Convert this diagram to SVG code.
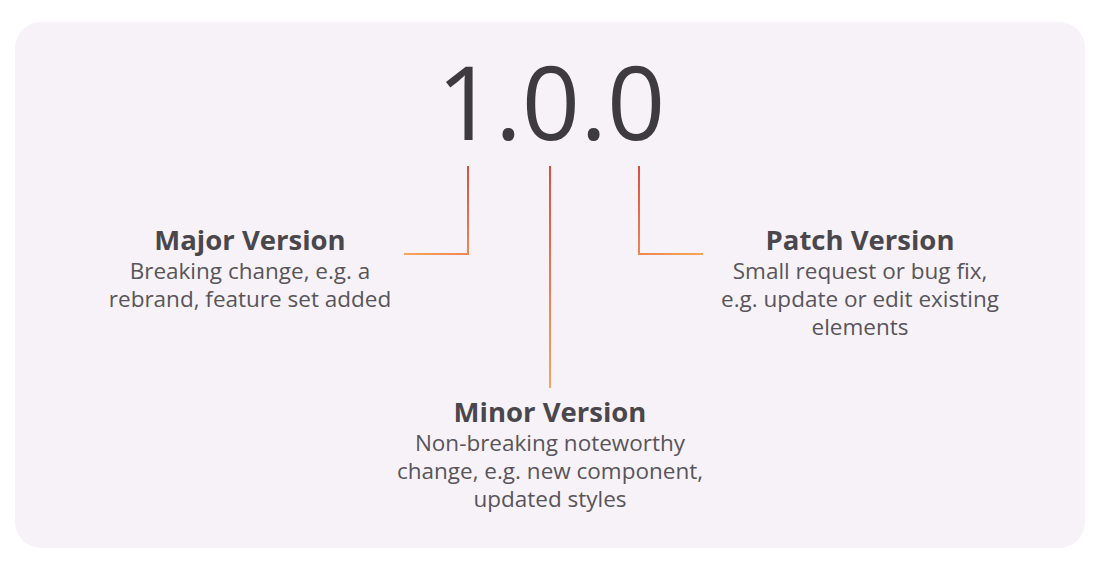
<svg xmlns="http://www.w3.org/2000/svg" width="1110" height="565" viewBox="0 0 1110 565">
<defs>
<linearGradient id="gL" gradientUnits="userSpaceOnUse" x1="404" y1="254" x2="468" y2="166"><stop offset="0" stop-color="#f6a55e"/><stop offset="1" stop-color="#d8503f"/></linearGradient>
<linearGradient id="gM" gradientUnits="userSpaceOnUse" x1="550" y1="166" x2="550" y2="388"><stop offset="0" stop-color="#d8503f"/><stop offset="1" stop-color="#f6a55e"/></linearGradient>
<linearGradient id="gR" gradientUnits="userSpaceOnUse" x1="639" y1="166" x2="703" y2="254"><stop offset="0" stop-color="#d8503f"/><stop offset="1" stop-color="#f6a55e"/></linearGradient>
</defs>
<style>
.h{font-family:"Open Sans","DejaVu Sans",sans-serif;font-weight:700;font-size:27.5px;fill:#4a474c;text-anchor:middle}
.b{font-family:"Open Sans","DejaVu Sans",sans-serif;font-size:22.5px;fill:#58555a;text-anchor:middle}
.c{fill:none;stroke-width:2}
</style>
<rect x="0" y="0" width="1110" height="565" fill="#ffffff"/>
<rect x="15" y="22" width="1070" height="526" rx="26" fill="#f7f2f8"/>
<text x="551" y="140" font-family="'Open Sans','DejaVu Sans',sans-serif" font-size="102" font-weight="500" fill="#3d3b40" text-anchor="middle">1.0.0</text>
<g id="connectors">
<path class="c" d="M404,254 H468 V166" stroke="url(#gL)"/>
<path class="c" d="M550,166 V388" stroke="url(#gM)"/>
<path class="c" d="M639,166 V254 H703" stroke="url(#gR)"/>
</g>
<g id="major">
<text class="h" x="250" y="250">Major Version</text>
<text class="b" x="250" y="279">Breaking change, e.g. a</text>
<text class="b" x="250" y="307">rebrand, feature set added</text>
</g>
<g id="patch">
<text class="h" x="860" y="250">Patch Version</text>
<text class="b" x="860" y="279">Small request or bug fix,</text>
<text class="b" x="860" y="307">e.g. update or edit existing</text>
<text class="b" x="860" y="335">elements</text>
</g>
<g id="minor">
<text class="h" x="550" y="422">Minor Version</text>
<text class="b" x="550" y="451">Non-breaking noteworthy</text>
<text class="b" x="550" y="479">change, e.g. new component,</text>
<text class="b" x="550" y="507">updated styles</text>
</g>
</svg>
